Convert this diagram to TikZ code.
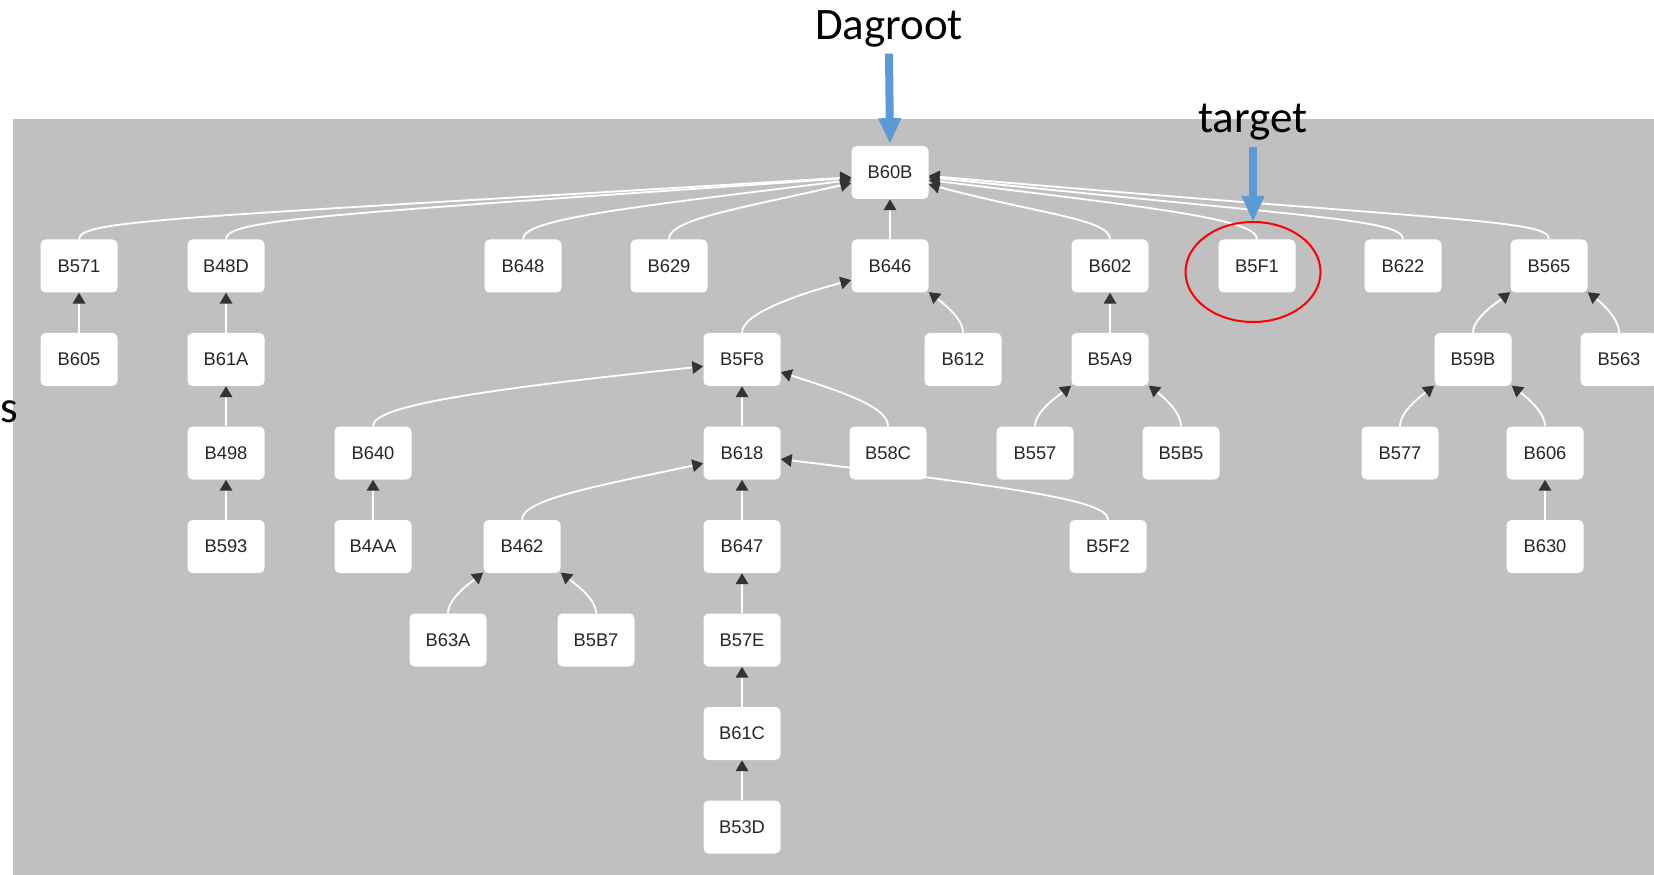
\documentclass[tikz,border=0pt]{standalone}
\usepackage{fontspec}
\setmainfont{Liberation Sans}
\newfontfamily\slidefont{Carlito}
\usetikzlibrary{arrows.meta,shapes.geometric,positioning}
\definecolor{panel}{RGB}{192,192,192}
\definecolor{tipgray}{RGB}{51,51,51}
\definecolor{pointer}{RGB}{91,155,213}
\pgfdeclarelayer{back}
\pgfdeclarelayer{lines}
\pgfsetlayers{back,lines,main}

\begin{document}
\begin{tikzpicture}
[x=0.6pt,y=0.6pt,
box/.style={fill=white,rounded corners=3pt,minimum width=46.2pt,minimum height=31.8pt,inner sep=0pt,
font=\fontsize{11}{13}\selectfont,text=black!85},
link/.style={draw=white,line width=1.1pt,-{Triangle[length=6.5pt,width=7.8pt,line width=0pt,color=tipgray]}},
rise/.style={out=90,out distance=12pt},
fromleft/.style={out=90,in=218,out distance=9pt,in distance=9pt},
fromright/.style={out=90,in=322,out distance=9pt,in distance=9pt},
callout/.style={draw=pointer,line width=4.8pt,-{Triangle[length=15pt,width=14pt,line width=0pt]}},
slide/.style={font=\slidefont\fontsize{27}{30}\selectfont}]
\useasboundingbox (0,0) rectangle (1654,-875);
\begin{pgfonlayer}{back}
\fill[white] (0,0) rectangle (1654,-875);
\fill[panel] (13,-119) rectangle (1654,-875);
\end{pgfonlayer}
\node [box] (B60B) at (890,-172.5) {B60B};
\node [box] (B571) at (79,-266) {B571};
\node [box] (B48D) at (226,-266) {B48D};
\node [box] (B648) at (523,-266) {B648};
\node [box] (B629) at (669,-266) {B629};
\node [box] (B646) at (890,-266) {B646};
\node [box] (B602) at (1110,-266) {B602};
\node [box] (B5F1) at (1257,-266) {B5F1};
\node [box] (B622) at (1403,-266) {B622};
\node [box] (B565) at (1549,-266) {B565};
\node [box] (B605) at (79,-359.5) {B605};
\node [box] (B61A) at (226,-359.5) {B61A};
\node [box] (B5F8) at (742,-359.5) {B5F8};
\node [box] (B612) at (963,-359.5) {B612};
\node [box] (B5A9) at (1110,-359.5) {B5A9};
\node [box] (B59B) at (1473,-359.5) {B59B};
\node [box] (B563) at (1619,-359.5) {B563};
\node [box] (B498) at (226,-453) {B498};
\node [box] (B640) at (373,-453) {B640};
\node [box] (B618) at (742,-453) {B618};
\node [box] (B58C) at (888,-453) {B58C};
\node [box] (B557) at (1035,-453) {B557};
\node [box] (B5B5) at (1181,-453) {B5B5};
\node [box] (B577) at (1400,-453) {B577};
\node [box] (B606) at (1545,-453) {B606};
\node [box] (B593) at (226,-546.5) {B593};
\node [box] (B4AA) at (373,-546.5) {B4AA};
\node [box] (B462) at (522,-546.5) {B462};
\node [box] (B647) at (742,-546.5) {B647};
\node [box] (B5F2) at (1108,-546.5) {B5F2};
\node [box] (B630) at (1545,-546.5) {B630};
\node [box] (B63A) at (448,-640) {B63A};
\node [box] (B5B7) at (596,-640) {B5B7};
\node [box] (B57E) at (742,-640) {B57E};
\node [box] (B61C) at (742,-733.5) {B61C};
\node [box] (B53D) at (742,-827) {B53D};
\begin{pgfonlayer}{lines}
\draw[link] (B571.north) to[rise,in=183.5,in distance=400pt] (B60B.187);
\draw[link] (B48D.north) to[rise,in=184,in distance=315pt] (B60B.188);
\draw[link] (B648.north) to[rise,in=187,in distance=137pt] (B60B.191);
\draw[link] (B629.north) to[rise,in=193,in distance=69pt] (B60B.195);
\draw[link] (B646) -- (B60B);
\draw[link] (B602.north) to[rise,in=-15,in distance=69pt] (B60B.-17);
\draw[link] (B5F1.north) to[rise,in=-7,in distance=137pt] (B60B.-11);
\draw[link] (B622.north) to[rise,in=-6,in distance=225pt] (B60B.-7);
\draw[link] (B565.north) to[rise,in=-5,in distance=313pt] (B60B.-5);
\draw[link] (B605) -- (B571);
\draw[link] (B61A) -- (B48D);
\draw[link] (B498) -- (B61A);
\draw[link] (B593) -- (B498);
\draw[link] (B5F8.north) to[rise,in=195,in distance=30pt] (B646.200);
\draw[link] (B612.north) to[fromright] (B646.326);
\draw[link] (B5A9) -- (B602);
\draw[link] (B59B.north) to[fromleft] (B565.214);
\draw[link] (B563.north) to[fromright] (B565.326);
\draw[link] (B640.north) to[rise,in=186,in distance=138pt] (B5F8.190);
\draw[link] (B618) -- (B5F8);
\draw[link] (B58C.north) to[rise,in=-18,in distance=36pt] (B5F8.-18);
\draw[link] (B557.north) to[fromleft] (B5A9.214);
\draw[link] (B5B5.north) to[fromright] (B5A9.326);
\draw[link] (B577.north) to[fromleft] (B59B.214);
\draw[link] (B606.north) to[fromright] (B59B.326);
\draw[link] (B4AA) -- (B640);
\draw[link] (B462.north) to[rise,in=192,in distance=66pt] (B618.195);
\draw[link] (B647) -- (B618);
\draw[link] (B5F2.north) to[rise,in=-7,in distance=138pt] (B618.-9);
\draw[link] (B630) -- (B606);
\draw[link] (B63A.north) to[fromleft] (B462.214);
\draw[link] (B5B7.north) to[fromright] (B462.326);
\draw[link] (B57E) -- (B647);
\draw[link] (B61C) -- (B57E);
\draw[link] (B53D) -- (B61C);
\end{pgfonlayer}
\node [slide,anchor=base] (dagroot) at (889,-40) {Dagroot};
\node [slide,anchor=base] (target) at (1253,-133) {target};
\node [slide,anchor=base west,inner sep=0pt] (cut) at (0,-422) {s};
\node [draw=red,ellipse,line width=1.2pt,minimum width=81pt,minimum height=60pt,inner sep=0pt] (ring) at (1253,-272) {};
\draw[callout] (dagroot.south) -- ([yshift=1.5pt]B60B.north);
\draw[callout] (target.south) -- (ring.north);
\end{tikzpicture}
\end{document}
